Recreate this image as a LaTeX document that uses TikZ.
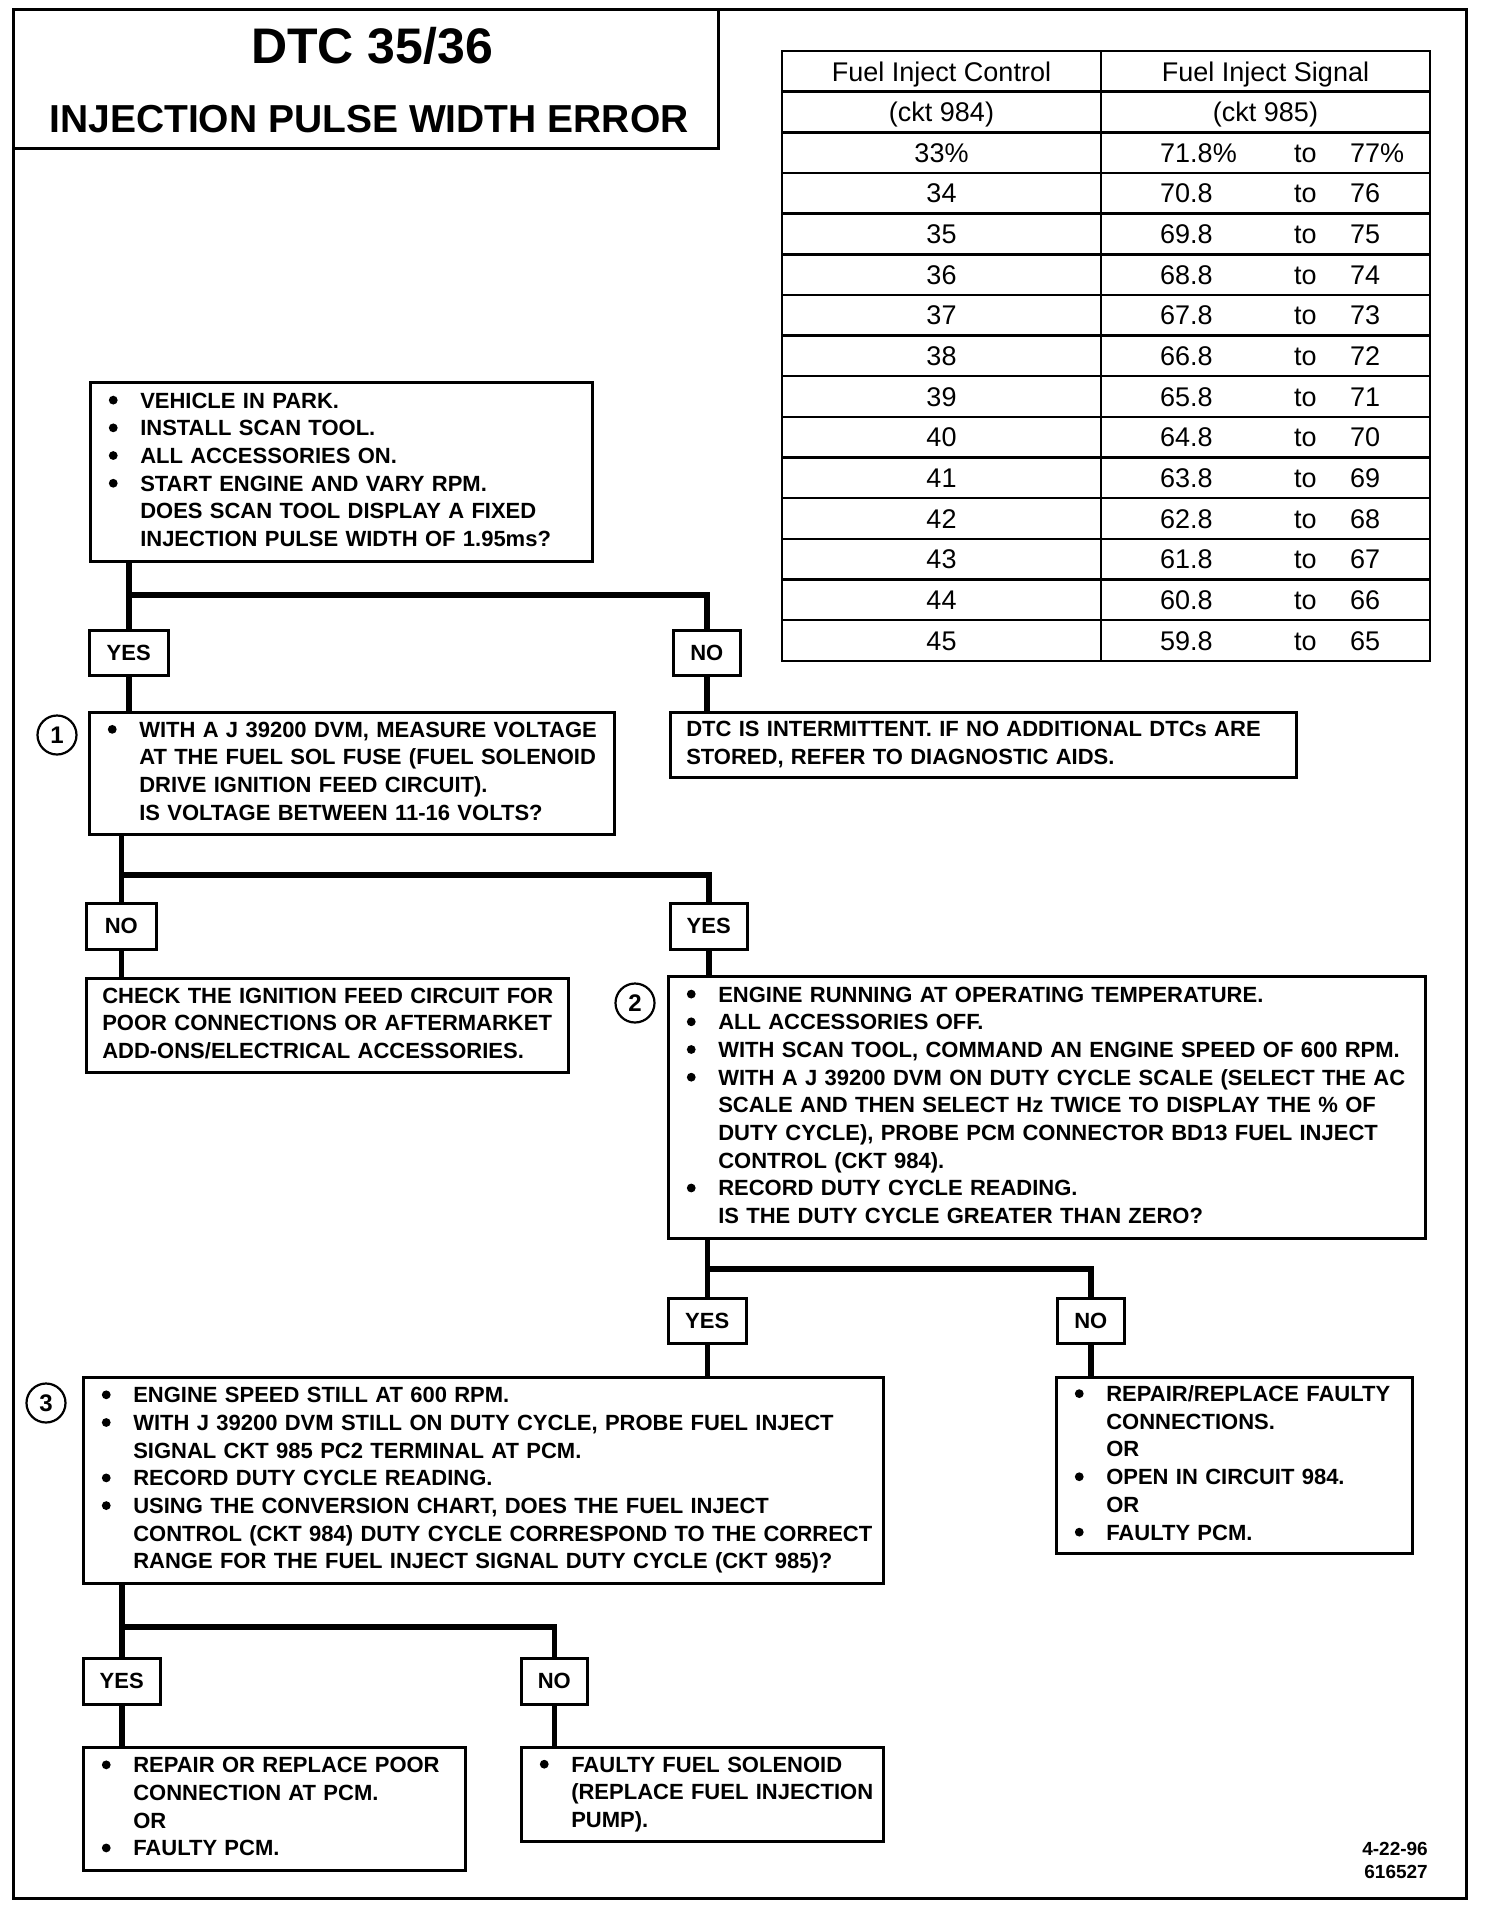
\documentclass[tikz,border=0pt]{standalone}
\usepackage{fontspec}
\setmainfont{Liberation Sans}
\usetikzlibrary{calc}
\newcommand{\bul}{\tikz[baseline=0pt]{\path (0pt,0pt) (14pt,0pt); \fill (7pt,7.9pt) circle[radius=4.4pt];}}
\tikzset{
  box/.style={draw, line width=2.5pt, anchor=north west, inner xsep=16pt, inner ysep=0pt,
    align=left, font={\fontsize{22}{27.7}\selectfont\bfseries}},
  ans/.style={draw, line width=2.5pt, anchor=north west, inner sep=0pt,
    font={\fontsize{22}{26}\selectfont\bfseries}},
  conn/.style={line width=5.5pt},
  hconn/.style={line width=5.5pt, line cap=rect},
  num/.style={draw, circle, line width=2.2pt, minimum size=39pt, inner sep=0pt,
    font={\fontsize{24}{24}\selectfont\bfseries}},
  cell/.style={inner sep=0pt, font={\fontsize{27}{27}\selectfont}},
  tline/.style={line width=2.5pt},
  frame/.style={line width=3pt},
}
\begin{document}
\begin{tikzpicture}[x=1pt,y=-1pt]
\useasboundingbox (0,0) rectangle (1488,1908);
\fill[white] (0,0) rectangle (1488,1908);
% outer frame and title
\draw[frame] (13,10) rectangle (1466,1898);
\draw[frame] (13,10) rectangle (718,148);
\node[font={\fontsize{50}{50}\selectfont\bfseries}] (t1) at (372,46) {DTC 35/36};
\node[font={\fontsize{39}{39}\selectfont\bfseries}] (t2) at (369,119) {INJECTION PULSE WIDTH ERROR};

% table
\draw[tline] (782,51) rectangle (1430,661);
\draw[tline] (1101,51) -- (1101,661);
\foreach \k in {1,...,14} \draw[tline] (782,{51+40.65*\k}) -- (1430,{51+40.65*\k});
\node[cell, anchor=base] (h1) at (941.5,{51+40.65*0.5+9.7}) {Fuel Inject Control};
\node[cell, anchor=base] (h2) at (1265.5,{51+40.65*0.5+9.7}) {Fuel Inject Signal};
\node[cell, anchor=base] (h3) at (941.5,{51+40.65*1.5+9.7}) {(ckt 984)};
\node[cell, anchor=base] (h4) at (1265.5,{51+40.65*1.5+9.7}) {(ckt 985)};
\foreach \i/\a/\b/\c in {2/33\%/71.8\%/77\%, 3/34/70.8/76, 4/35/69.8/75, 5/36/68.8/74,
  6/37/67.8/73, 7/38/66.8/72, 8/39/65.8/71, 9/40/64.8/70, 10/41/63.8/69, 11/42/62.8/68,
  12/43/61.8/67, 13/44/60.8/66, 14/45/59.8/65}{
  \pgfmathsetmacro{\yy}{51+40.65*(\i+0.5)+9.7}
  \node[cell, anchor=base] (l\i) at (941.5,\yy) {\a};
  \node[cell, anchor=base west] (m\i) at (1160,\yy) {\b};
  \node[cell, anchor=base west] (o\i) at (1294,\yy) {to};
  \node[cell, anchor=base west] (r\i) at (1350,\yy) {\c};
}

% boxes
\node[box, text width=470pt, minimum height=179pt] (A) at (89,381) {\begin{tabular}{@{}p{34pt}@{}l@{}}
\bul & VEHICLE IN PARK.\\
\bul & INSTALL SCAN TOOL.\\
\bul & ALL ACCESSORIES ON.\\
\bul & START ENGINE AND VARY RPM.\\
 & DOES SCAN TOOL DISPLAY A FIXED\\
 & INJECTION PULSE WIDTH OF 1.95ms?
\end{tabular}};

\node[box, text width=493pt, minimum height=122pt] (B1) at (88,711) {\begin{tabular}{@{}p{34pt}@{}l@{}}
\bul & WITH A J 39200 DVM, MEASURE VOLTAGE\\
 & AT THE FUEL SOL FUSE (FUEL SOLENOID\\
 & DRIVE IGNITION FEED CIRCUIT).\\
 & IS VOLTAGE BETWEEN 11-16 VOLTS?
\end{tabular}};

\node[box, text width=594pt, minimum height=65pt] (DTC) at (669,711) {\begin{tabular}{@{}l@{}}
DTC IS INTERMITTENT. IF NO ADDITIONAL DTCs ARE\\
STORED, REFER TO DIAGNOSTIC AIDS.
\end{tabular}};

\node[box, text width=450pt, minimum height=94pt] (CHK) at (85,977) {\begin{tabular}{@{}l@{}}
CHECK THE IGNITION FEED CIRCUIT FOR\\
POOR CONNECTIONS OR AFTERMARKET\\
ADD-ONS/ELECTRICAL ACCESSORIES.
\end{tabular}};

\node[box, text width=725pt, minimum height=262pt] (B2) at (667,975) {\begin{tabular}{@{}p{34pt}@{}l@{}}
\bul & ENGINE RUNNING AT OPERATING TEMPERATURE.\\
\bul & ALL ACCESSORIES OFF.\\
\bul & WITH SCAN TOOL, COMMAND AN ENGINE SPEED OF 600 RPM.\\
\bul & WITH A J 39200 DVM ON DUTY CYCLE SCALE (SELECT THE AC\\
 & SCALE AND THEN SELECT Hz TWICE TO DISPLAY THE \% OF\\
 & DUTY CYCLE), PROBE PCM CONNECTOR BD13 FUEL INJECT\\
 & CONTROL (CKT 984).\\
\bul & RECORD DUTY CYCLE READING.\\
 & IS THE DUTY CYCLE GREATER THAN ZERO?
\end{tabular}};

\node[box, text width=768pt, minimum height=206pt] (B3) at (82,1376) {\begin{tabular}{@{}p{34pt}@{}l@{}}
\bul & ENGINE SPEED STILL AT 600 RPM.\\
\bul & WITH J 39200 DVM STILL ON DUTY CYCLE, PROBE FUEL INJECT\\
 & SIGNAL CKT 985 PC2 TERMINAL AT PCM.\\
\bul & RECORD DUTY CYCLE READING.\\
\bul & USING THE CONVERSION CHART, DOES THE FUEL INJECT\\
 & CONTROL (CKT 984) DUTY CYCLE CORRESPOND TO THE CORRECT\\
 & RANGE FOR THE FUEL INJECT SIGNAL DUTY CYCLE (CKT 985)?
\end{tabular}};

\node[box, text width=324pt, minimum height=176pt] (RB) at (1055,1376) {\begin{tabular}{@{}p{34pt}@{}l@{}}
\bul & REPAIR/REPLACE FAULTY\\
 & CONNECTIONS.\\
 & OR\\
\bul & OPEN IN CIRCUIT 984.\\
 & OR\\
\bul & FAULTY PCM.
\end{tabular}};

\node[box, text width=350pt, minimum height=123pt] (BL) at (82,1746) {\begin{tabular}{@{}p{34pt}@{}l@{}}
\bul & REPAIR OR REPLACE POOR\\
 & CONNECTION AT PCM.\\
 & OR\\
\bul & FAULTY PCM.
\end{tabular}};

\node[box, text width=330pt, minimum height=94pt] (BM) at (520,1746) {\begin{tabular}{@{}p{34pt}@{}l@{}}
\bul & FAULTY FUEL SOLENOID\\
 & (REPLACE FUEL INJECTION\\
 & PUMP).
\end{tabular}};

% answer boxes
\node[ans, minimum width=79pt, minimum height=45pt] (yes1) at (88,629) {YES};
\node[ans, minimum width=67pt, minimum height=45pt] (no1) at (672,629) {NO};
\node[ans, minimum width=70pt, minimum height=46pt] (no2) at (85,902) {NO};
\node[ans, minimum width=77pt, minimum height=46pt] (yes2) at (669,902) {YES};
\node[ans, minimum width=78pt, minimum height=45pt] (yes3) at (667,1297) {YES};
\node[ans, minimum width=67pt, minimum height=45pt] (no3) at (1056,1297) {NO};
\node[ans, minimum width=77pt, minimum height=46pt] (yes4) at (82,1657) {YES};
\node[ans, minimum width=66pt, minimum height=46pt] (no4) at (520,1657) {NO};

% step numbers
\node[num] (n1) at (57,735) {1};
\node[num] (n2) at (635,1003) {2};
\node[num] (n3) at (46,1403) {3};

% junctions
\coordinate (j1) at (0,595);
\coordinate (j2) at (0,875);
\coordinate (j3) at (0,1269);
\coordinate (j4) at (0,1627);

% connectors
\draw[conn] (A.south -| yes1.north) -- (yes1.north);
\draw[hconn] (yes1.north |- j1) -| (no1.north);
\draw[conn] (yes1.south) -- (yes1.south |- B1.north);
\draw[conn] (no1.south) -- (no1.south |- DTC.north);
\draw[conn] (B1.south -| no2.north) -- (no2.north);
\draw[hconn] (no2.north |- j2) -| (yes2.north);
\draw[conn] (no2.south) -- (no2.south |- CHK.north);
\draw[conn] (yes2.south) -- (yes2.south |- B2.north);
\draw[conn] (B2.south -| yes3.north) -- (yes3.north);
\draw[hconn] (yes3.north |- j3) -| (no3.north);
\draw[conn] (yes3.south) -- (yes3.south |- B3.north);
\draw[conn] (no3.south) -- (no3.south |- RB.north);
\draw[conn] (B3.south -| yes4.north) -- (yes4.north);
\draw[hconn] (yes4.north |- j4) -| (no4.north);
\draw[conn] (yes4.south) -- (yes4.south |- BL.north);
\draw[conn] (no4.south) -- (no4.south |- BM.north);

% footer
\node[font={\fontsize{19}{23}\selectfont\bfseries}, align=right, anchor=east, inner sep=0pt] (foot) at (1428,1860) {4-22-96\\616527};
\end{tikzpicture}
\end{document}
